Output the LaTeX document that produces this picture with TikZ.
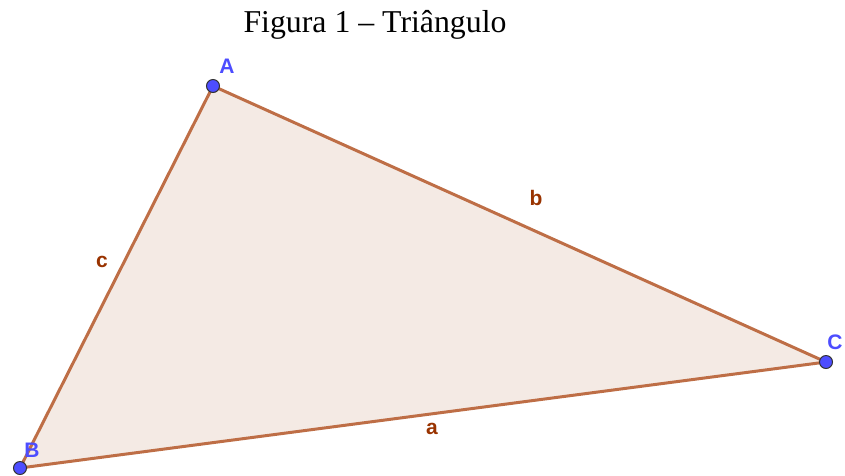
\documentclass[tikz,border=0pt]{standalone}
\usepackage{fontspec}
\setmainfont{Liberation Serif}
\newfontfamily\labelfont{Liberation Sans}
\usepackage{tikz}
\usetikzlibrary{positioning}
\usepackage{xcolor}
\definecolor{edgecol}{RGB}{190,110,70}
\definecolor{fillcol}{RGB}{244,234,228}
\definecolor{sidecol}{RGB}{153,51,0}
\definecolor{ptcol}{RGB}{77,77,255}

\begin{document}
\begin{tikzpicture}[x=1pt,y=-1pt,
    pt/.style={circle,draw=black!80,fill=ptcol,line width=1pt,inner sep=0pt,minimum size=13pt},
    vlbl/.style={font=\labelfont\bfseries\fontsize{21}{21}\selectfont,text=ptcol,inner sep=0pt},
    slbl/.style={font=\labelfont\bfseries\fontsize{21}{21}\selectfont,text=sidecol,inner sep=0pt}]
  \useasboundingbox (0,0) rectangle (845,475);
  \node[font=\fontsize{31.8}{32}\selectfont,inner sep=0pt](T) at (375,25){Figura 1 – Triângulo};
  \coordinate (A) at (213,86);
  \coordinate (B) at (20,468);
  \coordinate (C) at (826,362);
  \filldraw[fill=fillcol,draw=edgecol,line width=3pt,line join=round](A)--(B)--(C)--cycle;
  \node[pt](pA) at (A){};
  \node[pt](pB) at (B){};
  \node[pt](pC) at (C){};
  \node[vlbl](lA) at (227,66){A};
  \node[vlbl](lB) at (32,450){B};
  \node[vlbl](lC) at (835,342){C};
  \node[slbl](la) at (432,429){a};
  \node[slbl](lb) at (536,198){b};
  \node[slbl](lc) at (102,262){c};
\end{tikzpicture}
\end{document}
